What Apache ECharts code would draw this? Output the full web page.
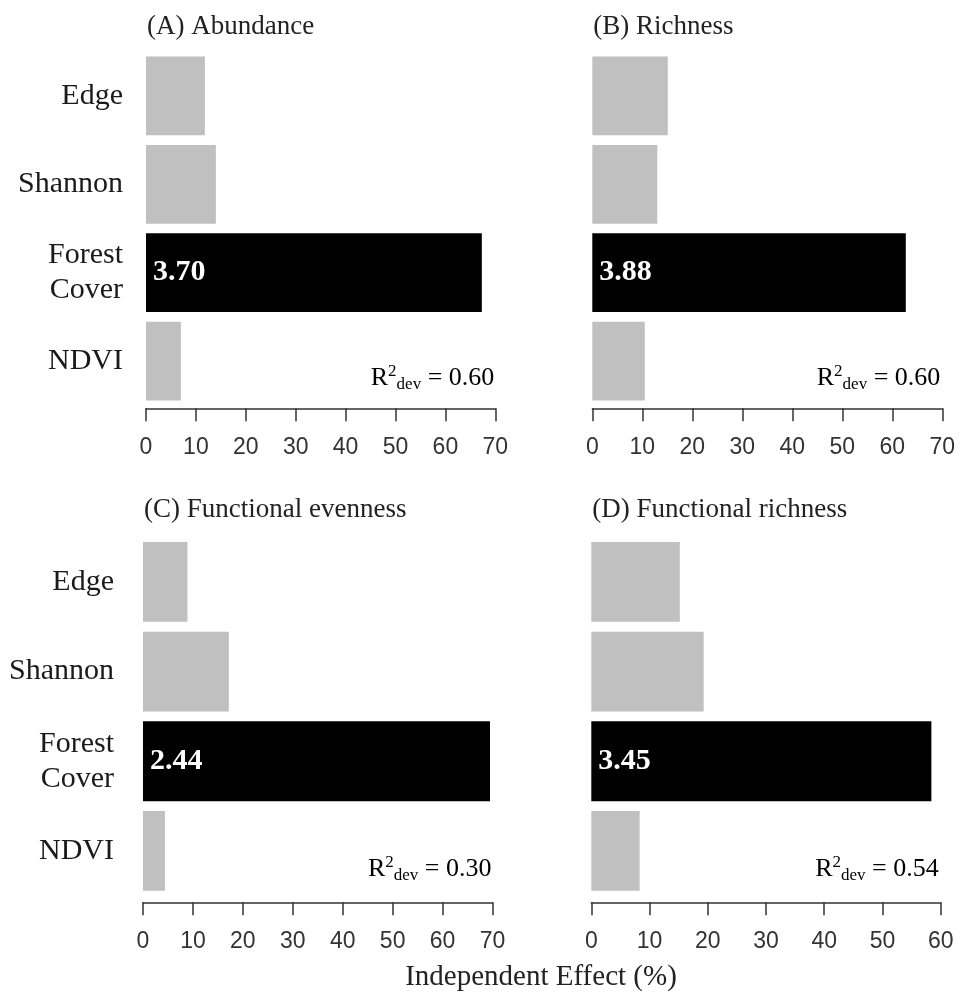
<!DOCTYPE html>
<html>
<head>
<meta charset="utf-8">
<title>Independent Effect</title>
<script src="https://cdn.jsdelivr.net/npm/echarts@6/dist/echarts.min.js"></script>
<style>
  html, body { margin: 0; padding: 0; background: #fff; }
  #chart { width: 968px; height: 994px; }
</style>
</head>
<body>
<div id="chart"></div>
<script>
// Predictors, listed top to bottom
const categories = ['Edge', 'Shannon', 'Forest\nCover', 'NDVI'];

// Independent effect (%) of each predictor, per response variable
const abundance = [11.8, 14.0, 67.3, 7.0];
const richness = [15.1, 13.0, 62.7, 10.5];
const functionalEvenness = [8.9, 17.2, 69.5, 4.4];
const functionalRichness = [15.2, 19.3, 58.4, 8.3];

// Panel titles, estimates printed on the Forest Cover bar, and deviance R²
const panelTitles = ['(A) Abundance', '(B) Richness', '(C) Functional evenness', '(D) Functional richness'];
const forestEstimates = ['3.70', '3.88', '2.44', '3.45'];
const r2dev = ['0.60', '0.60', '0.30', '0.54'];

// x-axis ranges (ticks every 10)
const axisMax = [70, 70, 70, 60];
const tickStep = 10;
const xAxisTitle = 'Independent Effect (%)';

const panelValues = [abundance, richness, functionalEvenness, functionalRichness];

// Panel geometry in pixels
const layout = [
  { left: 146,   top: 51.7, width: 349.3, height: 353.6, offset: 3,   labelMargin: 23, showY: true,  titleY: 27 },
  { left: 592.3, top: 51.7, width: 350,   height: 353.6, offset: 3,   labelMargin: 23, showY: false, titleY: 27 },
  { left: 143,   top: 537,  width: 349.5, height: 358.8, offset: 6.5, labelMargin: 29, showY: true,  titleY: 510 },
  { left: 591.3, top: 537,  width: 349.4, height: 358.8, offset: 6.5, labelMargin: 29, showY: false, titleY: 510 }
];

const serif = '"Liberation Serif", "Times New Roman", serif';
const sans = '"Liberation Sans", Arial, sans-serif';
const highlightName = 'Forest\nCover';

const grids = [], xAxes = [], yAxes = [], series = [], graphics = [];

layout.forEach((g, i) => {
  grids.push({
    left: g.left, top: g.top, width: g.width, height: g.height,
    containLabel: false, outerBoundsMode: 'none'
  });
  xAxes.push({
    type: 'value', gridIndex: i, min: 0, max: axisMax[i], interval: tickStep,
    offset: g.offset,
    axisLine: { show: true, lineStyle: { color: '#333', width: 1.5 } },
    axisTick: { show: true, length: 13, lineStyle: { color: '#333', width: 1.5 } },
    axisLabel: { margin: 28, fontFamily: sans, fontSize: 23, color: '#333', showMinLabel: true, showMaxLabel: true },
    splitLine: { show: false }
  });
  yAxes.push({
    type: 'category', gridIndex: i, data: categories, inverse: true,
    axisLine: { show: false }, axisTick: { show: false }, splitLine: { show: false },
    axisLabel: {
      show: g.showY, interval: 0, margin: g.labelMargin,
      fontFamily: serif, fontSize: 30, lineHeight: 35, color: '#1a1a1a', align: 'right'
    }
  });
  series.push({
    type: 'bar', xAxisIndex: i, yAxisIndex: i,
    barCategoryGap: '11%',
    silent: true, animation: false,
    data: panelValues[i].map((v, k) => {
      const hi = categories[k] === highlightName;
      return {
        value: v,
        itemStyle: { color: hi ? '#000000' : '#c0c0c0' },
        label: hi ? {
          show: true, position: 'insideLeft', distance: 7,
          formatter: forestEstimates[i],
          fontFamily: serif, fontWeight: 'bold', fontSize: 30, color: '#fff'
        } : { show: false }
      };
    })
  });

  // panel title
  graphics.push({
    type: 'text', x: g.left + 1, y: g.titleY,
    style: { text: panelTitles[i], font: '27px ' + serif, fill: '#222', align: 'left', verticalAlign: 'middle' }
  });

  // deviance R², right-aligned to the end of the axis
  const rightEdge = g.left + g.width - (i % 2 === 0 ? 1 : 2);
  graphics.push({
    type: 'text', x: rightEdge, y: i < 2 ? 378 : 869,
    style: {
      text: '{r|R}{sup|2}{sub|dev}{r| = ' + r2dev[i] + '}',
      align: 'right', verticalAlign: 'middle',
      rich: {
        r:   { fontFamily: serif, fontSize: 26, lineHeight: 30, color: '#222' },
        sup: { fontFamily: serif, fontSize: 17, lineHeight: 18, color: '#222', verticalAlign: 'top' },
        sub: { fontFamily: serif, fontSize: 17, lineHeight: 18, color: '#222', verticalAlign: 'bottom' }
      }
    }
  });
});

// shared x-axis title
graphics.push({
  type: 'text', x: 541, y: 977,
  style: { text: xAxisTitle, font: '29px ' + serif, fill: '#222', align: 'center', verticalAlign: 'middle' }
});

const chart = echarts.init(document.getElementById('chart'), null, { renderer: 'canvas' });
chart.setOption({
  backgroundColor: '#ffffff',
  animation: false,
  grid: grids,
  xAxis: xAxes,
  yAxis: yAxes,
  series: series,
  graphic: graphics
});
</script>
</body>
</html>
